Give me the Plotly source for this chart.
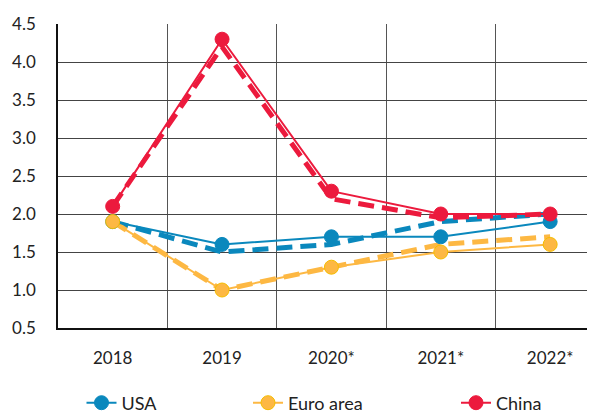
import plotly.graph_objects as go

years = ["2018", "2019", "2020*", "2021*", "2022*"]
usa = [1.9, 1.6, 1.7, 1.7, 1.9]
usa_prev = [1.9, 1.5, 1.6, 1.9, 2.0]
euro = [1.9, 1.0, 1.3, 1.5, 1.6]
euro_prev = [1.9, 1.0, 1.3, 1.6, 1.7]
china = [2.1, 4.3, 2.3, 2.0, 2.0]
china_prev = [2.1, 4.2, 2.2, 1.95, 2.0]

BLUE = "#0a88bd"
YELLOW = "#fdb843"
RED = "#ec1a3d"

xpos = list(range(len(years)))
fig = go.Figure()

for name, vals, col in [("USA", usa_prev, BLUE), ("Euro area", euro_prev, YELLOW), ("China", china_prev, RED)]:
    fig.add_trace(go.Scatter(x=xpos, y=vals, mode="lines", showlegend=False,
                             line=dict(color=col, width=5, dash="16px,8px"), name=name + " prev"))

for name, vals, col, mcol, lg in [("USA", usa, BLUE, BLUE, "legend"),
                                  ("Euro area", euro, YELLOW, "#f5bd00", "legend2"),
                                  ("China", china, RED, RED, "legend3")]:
    fig.add_trace(go.Scatter(x=xpos, y=vals, mode="lines+markers", name=name, legend=lg,
                             line=dict(color=col, width=2),
                             marker=dict(size=14, color=col, line=dict(color=mcol, width=1))))

W, H = 587, 408
leg_common = dict(orientation="h", xref="container", yref="container",
                  y=13 / H, xanchor="left", yanchor="middle",
                  font=dict(size=18), bgcolor="rgba(0,0,0,0)")

fig.update_layout(
    width=W, height=H,
    margin=dict(l=50, r=0, t=16, b=88, autoexpand=False),
    paper_bgcolor="white", plot_bgcolor="white",
    font=dict(family="Lato, Open Sans, sans-serif", size=17, color="#222"),
    showlegend=True,
    legend=dict(x=73.5 / W, **leg_common),
    legend2=dict(x=240 / W, **leg_common),
    legend3=dict(x=448 / W, **leg_common),
)
fig.update_xaxes(range=[-0.5, 4.41], tickvals=xpos, ticktext=years, automargin=False,
                 showgrid=False, zeroline=False,
                 ticks="outside", ticklen=14, tickcolor="rgba(0,0,0,0)",
                 showline=True, linecolor="#111", linewidth=1.5,
                 minor=dict(tick0=0.5, dtick=1, showgrid=True, gridcolor="#555", gridwidth=1))
fig.update_yaxes(range=[0.5, 4.5], dtick=0.5, tick0=0.5, tickformat=".1f", automargin=False,
                 showgrid=True, gridcolor="#444", gridwidth=1, zeroline=False,
                 ticks="outside", ticklen=17, tickcolor="rgba(0,0,0,0)",
                 showline=True, linecolor="#111", linewidth=1.5)

fig.write_html("out.html")
